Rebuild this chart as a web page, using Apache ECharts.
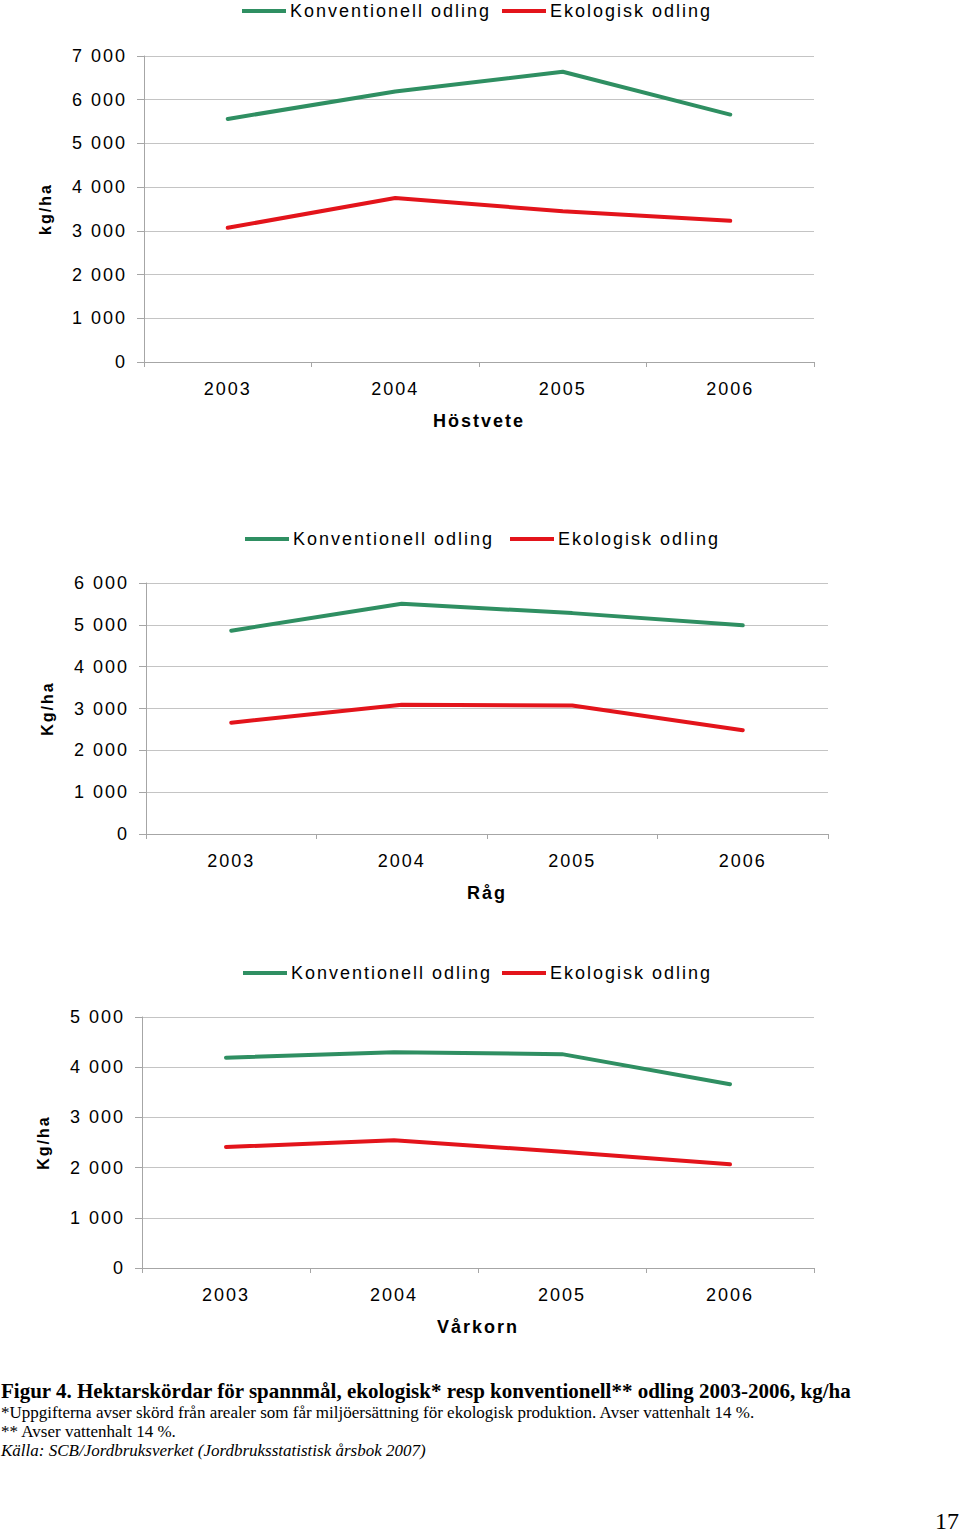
<!DOCTYPE html>
<html>
<head>
<meta charset="utf-8">
<script src="https://cdn.jsdelivr.net/npm/echarts@6/dist/echarts.min.js"></script>
<style>
  html, body { margin: 0; padding: 0; background: #fff; }
  #wrap { position: relative; width: 960px; height: 1534px; overflow: hidden; }
  #chart { position: absolute; left: 0; top: 0; width: 960px; height: 1534px; }
  #chart svg text { letter-spacing: 2px; }
  .cap { position: absolute; left: 1px; font-family: "Liberation Serif", "Times New Roman", serif; color: #000; white-space: nowrap; }
</style>
</head>
<body>
<div id="wrap">
  <div id="chart"></div>
  <div class="cap" style="top:1379px;font-size:21px;font-weight:bold;">Figur 4. Hektarskördar för spannmål, ekologisk* resp konventionell** odling 2003-2006, kg/ha</div>
  <div class="cap" style="top:1403px;font-size:17px;">*Uppgifterna avser skörd från arealer som får miljöersättning för ekologisk produktion. Avser vattenhalt 14 %.</div>
  <div class="cap" style="top:1422px;font-size:17px;">** Avser vattenhalt 14 %.</div>
  <div class="cap" style="top:1441px;font-size:17px;font-style:italic;">Källa: SCB/Jordbruksverket (Jordbruksstatistisk årsbok 2007)</div>
  <div class="cap" style="top:1508px;left:935px;font-size:24px;">17</div>
</div>
<script>
// ---- data ----
const years = ['2003', '2004', '2005', '2006'];
const seriesNames = ['Konventionell odling', 'Ekologisk odling'];
const panelTitles = ['Höstvete', 'Råg', 'Vårkorn'];
const yNames = ['kg/ha', 'Kg/ha', 'Kg/ha'];

const hostveteKonv = [5560, 6190, 6640, 5660];
const hostveteEko  = [3070, 3750, 3450, 3230];
const ragKonv      = [4860, 5505, 5280, 4990];
const ragEko       = [2660, 3090, 3070, 2480];
const varkornKonv  = [4190, 4300, 4260, 3660];
const varkornEko   = [2410, 2545, 2315, 2065];

const yMax = [7000, 6000, 5000];
const yInterval = 1000;

// ---- layout ----
const GREEN = '#2f8f62';
const RED = '#e3141b';
const FONT = '"Liberation Sans", Arial, sans-serif';
const grids = [
  { left: 144, top: 56, width: 670, height: 306 },
  { left: 146, top: 583, width: 682, height: 251 },
  { left: 142, top: 1017, width: 672, height: 251 }
];
const legendPos = [
  { y: 2, g: 242, r: 502 },
  { y: 530, g: 245, r: 510 },
  { y: 964, g: 243, r: 502 }
];
const data = [
  [hostveteKonv, hostveteEko],
  [ragKonv, ragEko],
  [varkornKonv, varkornEko]
];

function fmt(v) {
  return String(v).replace(/\B(?=(\d{3})+(?!\d))/g, ' ');
}

const option = {
  animation: false,
  backgroundColor: '#fff',
  textStyle: { fontFamily: FONT },
  grid: grids.map(g => Object.assign({ containLabel: false }, g)),
  legend: [],
  xAxis: [],
  yAxis: [],
  series: []
};

grids.forEach((g, i) => {
  option.xAxis.push({
    type: 'category',
    gridIndex: i,
    data: years,
    boundaryGap: true,
    name: panelTitles[i],
    nameLocation: 'middle',
    nameGap: 50,
    nameTextStyle: { fontFamily: FONT, fontSize: 18, fontWeight: 'bold', color: '#000' },
    axisLine: { show: true, lineStyle: { color: '#a6a6a6', width: 1 } },
    axisTick: { show: true, alignWithLabel: false, length: 5, lineStyle: { color: '#a6a6a6' } },
    axisLabel: { interval: 0, margin: 18, fontFamily: FONT, fontSize: 18, color: '#000' },
    splitLine: { show: false }
  });
  option.yAxis.push({
    type: 'value',
    gridIndex: i,
    min: 0,
    max: yMax[i],
    interval: yInterval,
    name: yNames[i],
    nameLocation: 'middle',
    nameGap: 91,
    nameRotate: 90,
    nameTextStyle: { fontFamily: FONT, fontSize: 16, fontWeight: 'bold', color: '#000' },
    axisLine: { show: true, lineStyle: { color: '#a6a6a6', width: 1 } },
    axisTick: { show: true, length: 7, lineStyle: { color: '#a6a6a6' } },
    axisLabel: { margin: 17, fontFamily: FONT, fontSize: 18, color: '#000', formatter: fmt },
    splitLine: { show: true, lineStyle: { color: '#c4c4c4', width: 1 } }
  });
  const colors = [GREEN, RED];
  seriesNames.forEach((nm, k) => {
    option.series.push({
      type: 'line',
      name: nm,
      xAxisIndex: i,
      yAxisIndex: i,
      data: data[i][k],
      symbol: 'none',
      showSymbol: false,
      color: colors[k],
      lineStyle: { color: colors[k], width: 4, cap: 'round' }
    });
    option.legend.push({
      data: [nm],
      left: k === 0 ? legendPos[i].g : legendPos[i].r,
      top: legendPos[i].y,
      padding: 0,
      icon: 'rect',
      itemWidth: 44,
      itemHeight: 4,
      selectedMode: false,
      textStyle: { fontFamily: FONT, fontSize: 18, color: '#000', padding: [0, 0, 0, -1] },
      itemStyle: { color: colors[k] }
    });
  });
});

const chart = echarts.init(document.getElementById('chart'), null, { renderer: 'svg' });
chart.setOption(option);
</script>
</body>
</html>
